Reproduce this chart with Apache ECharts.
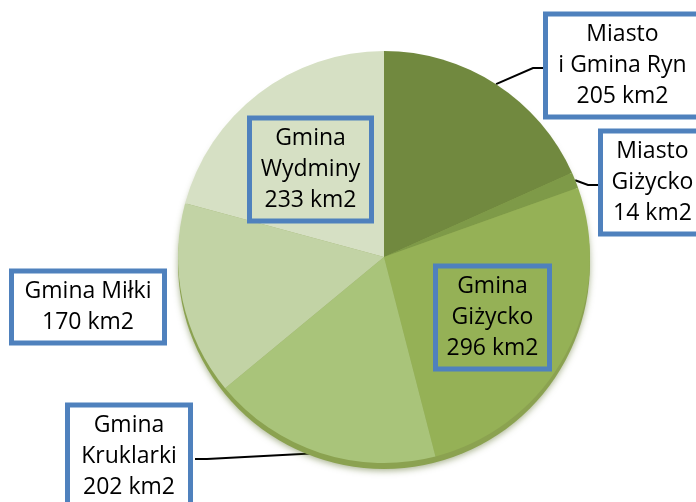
<!DOCTYPE html>
<html>
<head>
<meta charset="utf-8">
<script src="https://cdn.jsdelivr.net/npm/echarts@6/dist/echarts.min.js"></script>
<style>
  html, body { margin: 0; padding: 0; background: #fff; }
  #chart { width: 696px; height: 502px; }
</style>
</head>
<body>
<div id="chart"></div>
<script>
// gminy powiatu giżyckiego, powierzchnia w km2
const names = ['Miasto\ni Gmina Ryn', 'Miasto\nGiżycko', 'Gmina\nGiżycko', 'Gmina\nKruklarki', 'Gmina Miłki', 'Gmina\nWydminy'];
const areas = [205, 14, 296, 202, 170, 233];
const unit = 'km2';

const palette = ['#71893f', '#7e9a48', '#95b156', '#a9c47a', '#c2d3a5', '#d6e0c4'];

// label boxes: top-left corner, content width, side of the leader line
const labelBoxes = [
  { x: 543, y: 14, w: 134, side: 'left' },
  { x: 598, y: 131, w: 84, side: 'left' },
  { x: 433, y: 266, w: 94, side: null },
  { x: 65, y: 405, w: 103, side: 'right' },
  { x: 9, y: 271, w: 133, side: null },
  { x: 247, y: 118, w: 102, side: null },
];

const total = areas.reduce((a, b) => a + b, 0);

const chart = echarts.init(document.getElementById('chart'), null, { renderer: 'canvas' });

const option = {
  animation: false,
  series: [
    {
      // dark rim under the pie
      type: 'pie',
      silent: true,
      center: [384, 263],
      radius: 206,
      label: { show: false },
      labelLine: { show: false },
      itemStyle: {
        color: '#8ba250',
        shadowBlur: 6,
        shadowColor: 'rgba(90,110,40,0.5)',
        shadowOffsetY: 2,
      },
      data: [{ value: total, name: 'rim' }],
    },
    {
      type: 'pie',
      center: [384, 257],
      radius: 206,
      startAngle: 90,
      clockwise: true,
      avoidLabelOverlap: false,
      label: {
        show: true,
        position: 'outside',
        formatter: (p) => p.name + '\n' + p.value + ' ' + unit,
        fontFamily: 'Open Sans',
        fontSize: 23,
        lineHeight: 31,
        color: '#000',
        align: 'center',
        padding: [5, 10],
        borderColor: '#4f81bd',
        borderWidth: 2.5,
        backgroundColor: 'transparent',
      },
      labelLine: {
        show: true,
        length: 10,
        length2: 10,
        lineStyle: { color: '#000', width: 2 },
      },
      labelLayout: function (params) {
        const box = labelBoxes[params.dataIndex];
        const r = params.labelRect;
        const out = { x: box.x + r.width / 2, y: box.y, align: 'center', verticalAlign: 'top' };
        const pts = params.labelLinePoints;
        if (box.side && pts) {
          const ey = box.y + r.height / 2;
          const ex = box.side === 'left' ? box.x + 2 : box.x + r.width + 2;
          const kx = box.side === 'left' ? ex - 12 : ex + 12;
          out.labelLinePoints = [pts[0], [kx, ey], [ex, ey]];
        }
        return out;
      },
      data: areas.map((v, i) => ({
        value: v,
        name: names[i],
        itemStyle: { color: palette[i] },
        label: { width: labelBoxes[i].w },
        labelLine: { show: !!labelBoxes[i].side },
      })),
    },
  ],
};

chart.setOption(option);
</script>
</body>
</html>
